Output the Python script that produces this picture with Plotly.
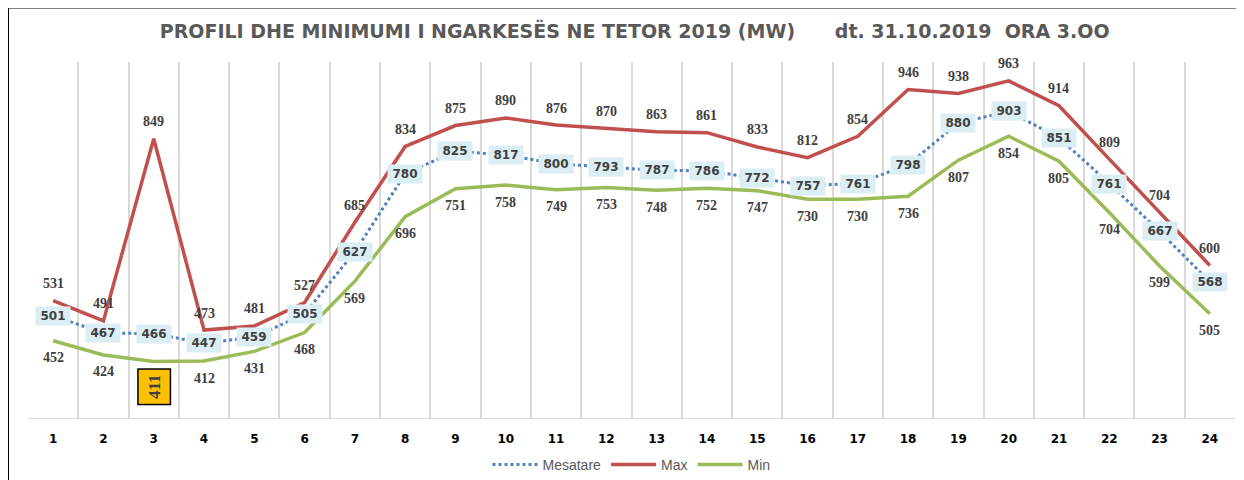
import plotly.graph_objects as go

hours = list(range(1, 25))
max_vals = [531, 491, 849, 473, 481, 527, 685, 834, 875, 890, 876, 870, 863, 861, 833, 812, 854, 946, 938, 963, 914, 809, 704, 600]
mes_vals = [501, 467, 466, 447, 459, 505, 627, 780, 825, 817, 800, 793, 787, 786, 772, 757, 761, 798, 880, 903, 851, 761, 667, 568]
min_vals = [452, 424, 411, 412, 431, 468, 569, 696, 751, 758, 749, 753, 748, 752, 747, 730, 730, 736, 807, 854, 805, 704, 599, 505]
highlight_hour = 3

title = "PROFILI DHE MINIMUMI I NGARKESËS NE TETOR 2019 (MW)      dt. 31.10.2019  ORA 3.OO"

C_MAX = "#C0504D"
C_MIN = "#9BBB59"
C_MES = "#4F81BD"
LBL = "#404040"
SERIF = "Liberation Serif, Times New Roman, serif"
SANS = "DejaVu Sans, Verdana, sans-serif"

W, H = 1236, 472
L, T, PW, PH = 20, 54, 1207, 356

fig = go.Figure()
fig.add_trace(go.Scatter(x=hours, y=mes_vals, mode="lines", name="Mesatare",
                         line=dict(color=C_MES, width=3, dash="dot")))
fig.add_trace(go.Scatter(x=hours, y=max_vals, mode="lines", name="Max",
                         line=dict(color=C_MAX, width=3.5)))
fig.add_trace(go.Scatter(x=hours, y=min_vals, mode="lines", name="Min",
                         line=dict(color=C_MIN, width=3.5)))

ann = []
for h, v in zip(hours, max_vals):
    ann.append(dict(x=h, y=v, text=str(v), showarrow=False, yshift=17,
                    font=dict(family=SERIF, size=14, color=LBL, weight="bold")))
for h, v in zip(hours, mes_vals):
    ann.append(dict(x=h, y=v, text=str(v), showarrow=False, bgcolor="#DAEEF3",
                    width=32, height=16, borderpad=1,
                    font=dict(family=SANS, size=12, color=LBL, weight="bold")))
for h, v in zip(hours, min_vals):
    if h == highlight_hour:
        ann.append(dict(x=h, y=v, text=str(v), showarrow=False, yshift=-25,
                        textangle=-90, bgcolor="#FFC000", bordercolor="#000000",
                        borderwidth=1.5, borderpad=2, width=30, height=27,
                        font=dict(family=SERIF, size=17, color=LBL, weight="bold")))
    else:
        ann.append(dict(x=h, y=v, text=str(v), showarrow=False, yshift=-17,
                        font=dict(family=SERIF, size=14, color=LBL, weight="bold")))

fig.update_layout(
    width=W, height=H,
    margin=dict(l=L, r=W - L - PW, t=T, b=H - T - PH, autoexpand=False),
    paper_bgcolor="white", plot_bgcolor="white",
    title=dict(text=title, x=0.507, xanchor="center", y=1 - 23 / H, yanchor="middle",
               font=dict(family="DejaVu Sans, sans-serif",
                         size=19, color="#595959", weight="bold")),
    xaxis=dict(range=[0.5, 24.5], tickvals=hours, ticktext=[str(h) for h in hours],
               showgrid=False, zeroline=False, showline=True, linecolor="#D9D9D9", linewidth=1,
               ticks="", ticklabelstandoff=10,
               tickfont=dict(family=SANS, size=12, color="#000000", weight="bold"),
               minor=dict(tick0=0.5, dtick=1, showgrid=True, gridcolor="#D9D9D9", gridwidth=1.5)),
    yaxis=dict(range=[300, 1000], visible=False, showgrid=False),
    legend=dict(orientation="h", x=0.5, xanchor="center", y=-47 / PH, yanchor="middle",
                font=dict(family="Liberation Sans, Arial, sans-serif", size=14, color="#595959"),
                itemwidth=45),
    annotations=ann,
    shapes=[
        dict(type="line", xref="paper", yref="paper", x0=-20 / PW, x1=1.01, y0=1 + 54 / PH, y1=1 + 54 / PH,
             line=dict(color="#7F7F7F", width=2)),
        dict(type="line", xref="paper", yref="paper", x0=-20 / PW, x1=-20 / PW, y0=1 + 54 / PH, y1=-0.2,
             line=dict(color="#000000", width=2)),
    ],
)

fig.write_html("out.html")
